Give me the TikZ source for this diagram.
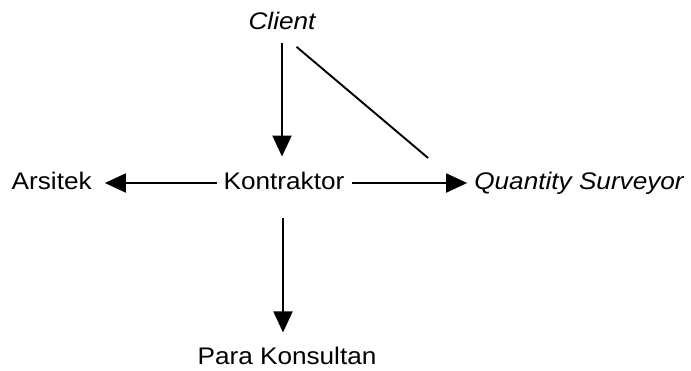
\documentclass[tikz,border=0pt]{standalone}
\usepackage{fontspec}
\setmainfont[FakeStretch=1.09]{Liberation Sans}
\usepackage{tikz}
\usetikzlibrary{positioning,arrows.meta}

\begin{document}
\begin{tikzpicture}[
    x=1pt, y=-1pt,
    lbl/.style={inner sep=0pt,text height=17.5pt,text depth=5pt,font=\fontsize{24}{29}\selectfont},
    arr/.style={-{Triangle[length=21pt,width=19pt]},line width=1.9pt},
    ln/.style={line width=1.9pt}
  ]
    \useasboundingbox (0,0) rectangle (691,370);

    % middle row
    \node[lbl] (kontraktor) at (284,183) {Kontraktor};
    \node[lbl, left=131.6pt of kontraktor] (arsitek) {Arsitek};
    \node[lbl, right=129.6pt of kontraktor] (qs) {\itshape Quantity Surveyor};

    % top and bottom
    \node[lbl, above=137pt of kontraktor, xshift=-2pt] (client) {\itshape Client};
    \node[lbl, below=152pt of kontraktor, xshift=3pt, text depth=1pt] (para) {Para Konsultan};

    % Arrows
    \draw[arr, shorten <=8pt, shorten >=15pt] (client.south) -- (client.south |- kontraktor.north);
    \draw[arr, shorten <=6.6pt, shorten >=13pt] (kontraktor.west) -- (arsitek.east);
    \draw[arr, shorten <=7.6pt, shorten >=7pt] (kontraktor.east) -- (qs.west);
    \draw[arr, shorten <=24pt, shorten >=14pt] ([xshift=-1pt]kontraktor.south) -- ([xshift=-1pt]kontraktor.south |- para.north);
    \draw[ln, shorten <=19pt, shorten >=21pt] (client.south) -- ([xshift=-30pt]qs.north west);
  \end{tikzpicture}
\end{document}
